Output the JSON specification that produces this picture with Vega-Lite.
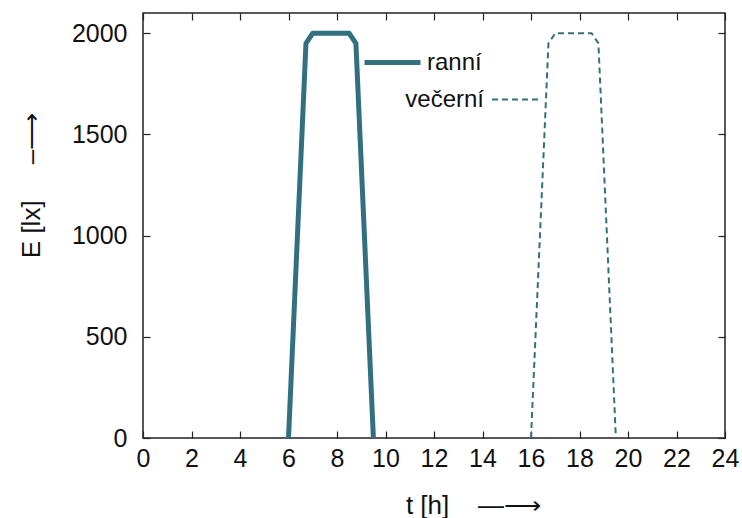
{
  "$schema": "https://vega.github.io/schema/vega-lite/v6.json",
  "width": 582,
  "height": 425,
  "autosize": {"type": "none"},
  "padding": {"left": 143, "top": 13, "right": 17, "bottom": 80},
  "background": "white",
  "config": {
    "view": {"stroke": "#222", "strokeWidth": 1.5},
    "font": "Liberation Sans",
    "axis": {
      "grid": false,
      "domain": false,
      "tickColor": "#222",
      "tickWidth": 1.2,
      "tickSize": -7,
      "labelFont": "Liberation Sans",
      "labelFontSize": 25,
      "labelColor": "#111",
      "labelFlush": false,
      "labelOverlap": false,
      "titleFont": "Liberation Sans",
      "titleFontSize": 26,
      "titleFontWeight": "normal",
      "titleColor": "#111"
    }
  },
  "data": {
    "values": [
      {"t": 6, "E": 0, "s": "ranní"},
      {"t": 6.72, "E": 1950, "s": "ranní"},
      {"t": 7, "E": 2000, "s": "ranní"},
      {"t": 8.5, "E": 2000, "s": "ranní"},
      {"t": 8.78, "E": 1950, "s": "ranní"},
      {"t": 9.5, "E": 0, "s": "ranní"},
      {"t": 16, "E": 0, "s": "večerní"},
      {"t": 16.72, "E": 1950, "s": "večerní"},
      {"t": 17, "E": 2000, "s": "večerní"},
      {"t": 18.5, "E": 2000, "s": "večerní"},
      {"t": 18.78, "E": 1950, "s": "večerní"},
      {"t": 19.5, "E": 0, "s": "večerní"}
    ]
  },
  "layer": [
    {
      "mark": {"type": "line", "strokeJoin": "round", "strokeCap": "butt"},
      "encoding": {
        "x": {
          "field": "t", "type": "quantitative",
          "scale": {"domain": [0, 24], "nice": false},
          "axis": {
            "orient": "bottom",
            "values": [0, 2, 4, 6, 8, 10, 12, 14, 16, 18, 20, 22, 24],
            "labelPadding": 15,
            "title": "t [h]\u00a0\u00a0\u00a0\u00a0—⟶",
            "titleX": 330,
            "titleY": 67,
            "titleBaseline": "middle",
            "titleAlign": "center"
          }
        },
        "y": {
          "field": "E", "type": "quantitative",
          "scale": {"domain": [0, 2100], "nice": false},
          "axis": {
            "orient": "left",
            "format": "d",
            "values": [0, 500, 1000, 1500, 2000],
            "labelPadding": 23,
            "title": "E [lx]\u00a0\u00a0\u00a0\u00a0\u00a0–⟶",
            "titleAngle": 270,
            "titleX": -112,
            "titleY": 172,
            "titleBaseline": "middle",
            "titleAlign": "center"
          }
        },
        "color": {
          "field": "s", "type": "nominal",
          "scale": {"domain": ["ranní", "večerní"], "range": ["#33707f", "#33707f"]},
          "legend": {
            "orient": "none",
            "legendX": 219,
            "legendY": 19,
            "values": ["ranní"],
            "title": null,
            "symbolType": "stroke",
            "symbolSize": 3136,
            "symbolStrokeWidth": 5,
            "labelFontSize": 24,
            "labelFont": "Liberation Sans",
            "labelColor": "#111",
            "labelOffset": 4
          }
        },
        "strokeDash": {
          "field": "s", "type": "nominal",
          "scale": {"domain": ["večerní", "ranní"], "range": [[6, 4], [1, 0]]},
          "legend": {
            "orient": "none",
            "legendX": 348,
            "legendY": 62,
            "values": ["večerní"],
            "title": null,
            "symbolType": "stroke",
            "symbolSize": 2209,
            "symbolStrokeColor": "#33707f",
            "symbolStrokeWidth": 2,
            "labelFontSize": 24,
            "labelFont": "Liberation Sans",
            "labelColor": "#111",
            "labelAlign": "right",
            "labelOffset": -56
          }
        },
        "strokeWidth": {
          "field": "s", "type": "nominal",
          "scale": {"domain": ["ranní", "večerní"], "range": [5, 2]},
          "legend": null
        }
      }
    },
    {
      "mark": {"type": "line", "opacity": 0},
      "encoding": {
        "x": {
          "field": "t", "type": "quantitative",
          "axis": {"orient": "top", "values": [0, 2, 4, 6, 8, 10, 12, 14, 16, 18, 20, 22, 24], "labels": false, "title": null}
        },
        "y": {
          "field": "E", "type": "quantitative",
          "axis": {"orient": "right", "values": [0, 500, 1000, 1500, 2000], "labels": false, "title": null}
        },
        "detail": {"field": "s", "type": "nominal"}
      }
    }
  ],
  "resolve": {"axis": {"x": "independent", "y": "independent"}}
}
